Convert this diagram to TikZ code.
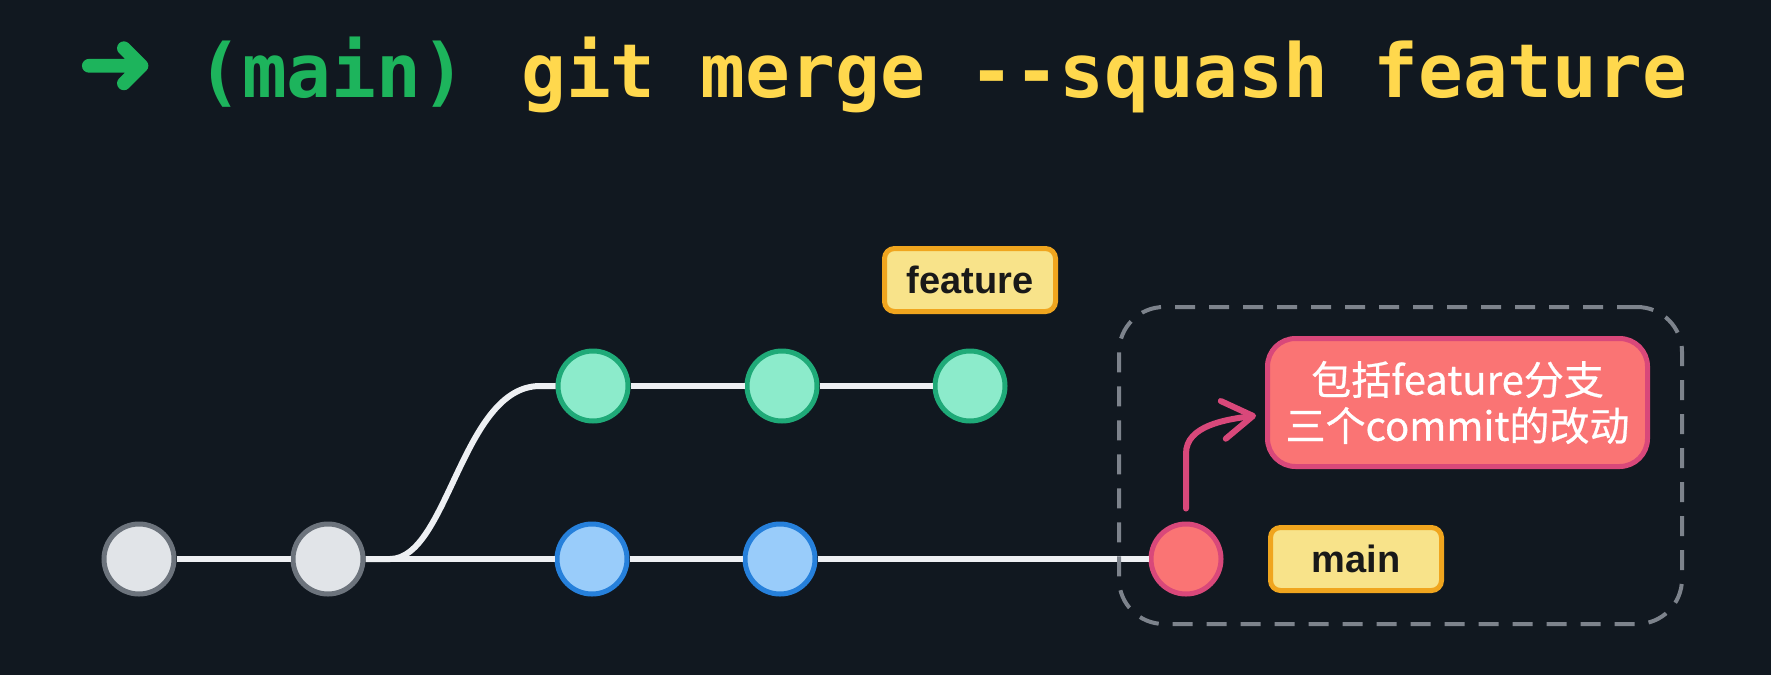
\documentclass[tikz,border=0pt]{standalone}
\usepackage{fontspec}
\setmainfont{Liberation Sans}
\newfontfamily\monofont{DejaVu Sans Mono}
\newfontfamily\symfont[FakeBold=3]{DejaVu Sans}
\newfontfamily\cjkfont[FakeBold=0.6]{Noto Sans CJK SC}
\usetikzlibrary{arrows.meta}
\definecolor{bg}{HTML}{111820}
\definecolor{tgreen}{HTML}{1DB45C}
\definecolor{tyellow}{HTML}{FFD84D}
\definecolor{greyfill}{HTML}{E1E4E8}
\definecolor{greystroke}{HTML}{6C737C}
\definecolor{greenfill}{HTML}{8CEBCB}
\definecolor{greenstroke}{HTML}{1FAA78}
\definecolor{bluefill}{HTML}{99CCFA}
\definecolor{bluestroke}{HTML}{2680DB}
\definecolor{redfill}{HTML}{FA7474}
\definecolor{redstroke}{HTML}{D9487A}
\definecolor{labfill}{HTML}{F8E38A}
\definecolor{labstroke}{HTML}{F0A51E}
\definecolor{edgecol}{HTML}{EEF0F3}
\definecolor{dashcol}{HTML}{7D838C}
\begin{document}
\begin{tikzpicture}[x=1pt,y=-1pt,
  commit/.style={circle, minimum size=70pt, inner sep=0pt, line width=5pt},
  gcommit/.style={commit, fill=greyfill, draw=greystroke},
  fcommit/.style={commit, fill=greenfill, draw=greenstroke},
  bcommit/.style={commit, fill=bluefill, draw=bluestroke},
  rcommit/.style={commit, fill=redfill, draw=redstroke},
  edge/.style={draw=edgecol, line width=6pt},
  branchlab/.style={rectangle, rounded corners=10pt, fill=labfill, draw=labstroke, line width=5pt,
    minimum width=171pt, minimum height=63pt, inner sep=0pt, text=black!90,
    font=\bfseries\fontsize{38}{38}\selectfont},
  note/.style={rectangle, rounded corners=28pt, fill=redfill, draw=redstroke, line width=5pt,
    minimum width=380pt, minimum height=128pt, inner sep=0pt, text=white, align=center,
    font=\cjkfont\fontsize{40}{46}\selectfont},
  titletext/.style={anchor=base west, inner sep=0pt, font=\monofont\bfseries\fontsize{74.5}{74.5}\selectfont}
]
\fill[bg] (0,0) rectangle (1771,675);
\useasboundingbox (0,0) rectangle (1771,675);

% title
\node[anchor=base west, inner sep=0pt, text=tgreen, font=\symfont\fontsize{90}{90}\selectfont] (arr) at (78,94) {➜};
\node[titletext, text=tgreen] (br) at (197,97) {(main)};
\node[titletext, text=tyellow] (cmd) at (521,97) {git merge -{}-squash feature};

% commits
\node[gcommit] (g1) at (139,559) {};
\node[gcommit] (g2) at (328,559) {};
\node[bcommit] (b1) at (592,559) {};
\node[bcommit] (b2) at (780,559) {};
\node[rcommit] (r) at (1186,559) {};
\node[fcommit] (f1) at (593,386) {};
\node[fcommit] (f2) at (782,386) {};
\node[fcommit] (f3) at (970,386) {};

% edges
\coordinate (bendA) at (390,559);
\coordinate (bendB) at (540,386);
\draw[edge] (g1) -- (g2);
\draw[edge] (g2) -- (b1);
\draw[edge] (b1) -- (b2);
\draw[edge] (b2) -- (r);
\draw[edge] (g2.east) -- (bendA) .. controls (448,559) and (462,386) .. (bendB) -- (f1.west);
\draw[edge] (f1) -- (f2);
\draw[edge] (f2) -- (f3);

% labels
\node[branchlab] (featlab) at (970,280) {feature};
\node[branchlab] (mainlab) at (1356,559) {main};

% group box
\node[draw=dashcol, line width=4pt, dash pattern=on 20pt off 14pt, rounded corners=45pt,
  minimum width=563pt, minimum height=317pt, inner sep=0pt] (grp) at (1400.5,465.5) {};

% note
\node[note] (note) at (1457.5,402.5) {包括feature分支\\三个commit的改动};

% arrow
\coordinate (as) at ([yshift=13pt]r.north);
\coordinate (ae) at ([xshift=-9pt,yshift=-13pt]note.west);
\draw[draw=redstroke, line width=6pt, line cap=round,
  -{Straight Barb[length=30pt,width=38pt,round]}]
  (as) -- ++(0,-55) .. controls +(0,-28) and +(-30,4) .. (ae);
\end{tikzpicture}
\end{document}
